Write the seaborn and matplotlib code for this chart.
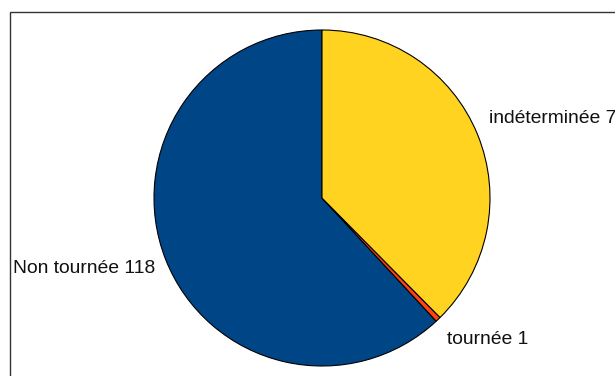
import matplotlib
matplotlib.use("Agg")
import matplotlib.pyplot as plt
import seaborn as sns
from matplotlib.patches import Rectangle

# categories in drawing order (counter-clockwise from the top)
categories = ["Non tournée", "tournée", "indéterminée"]
counts = [118, 1, 7]
# slice sizes as they appear in the picture (percent)
shares = [61.9, 0.5, 37.6]
colors = ["#004586", "#FF420E", "#FFD320"]

sns.set_theme(style="white")
plt.rcParams["font.family"] = ["Liberation Sans", "DejaVu Sans"]

fig = plt.figure(figsize=(6.15, 3.76), dpi=100)
ax = fig.add_axes([152 / 615, 8 / 376, 340 / 615, 340 / 376])

ax.pie(shares, colors=colors, startangle=90, counterclock=True,
       wedgeprops=dict(edgecolor="black", linewidth=0.8))
lim = 170 / 168
ax.set_xlim(-lim, lim)
ax.set_ylim(-lim, lim)
ax.set_aspect("equal")
ax.axis("off")

labels = [f"{c} {n}" for c, n in zip(categories, counts)]
label_pos = [(-1.839, -0.417), (0.744, -0.845), (0.994, 0.476)]
for lab, (x, y) in zip(labels, label_pos):
    ax.text(x, y, lab, ha="left", va="center", fontsize=13.9, color="#111111")

# chart frame (cut off on the right and bottom)
fig.patches.append(Rectangle((9.5 / 615, -0.1), 2, (376 - 11.5) / 376 + 0.1,
                             transform=fig.transFigure, fill=False,
                             edgecolor="#333333", linewidth=1))

fig.savefig("out.png", dpi=100)
